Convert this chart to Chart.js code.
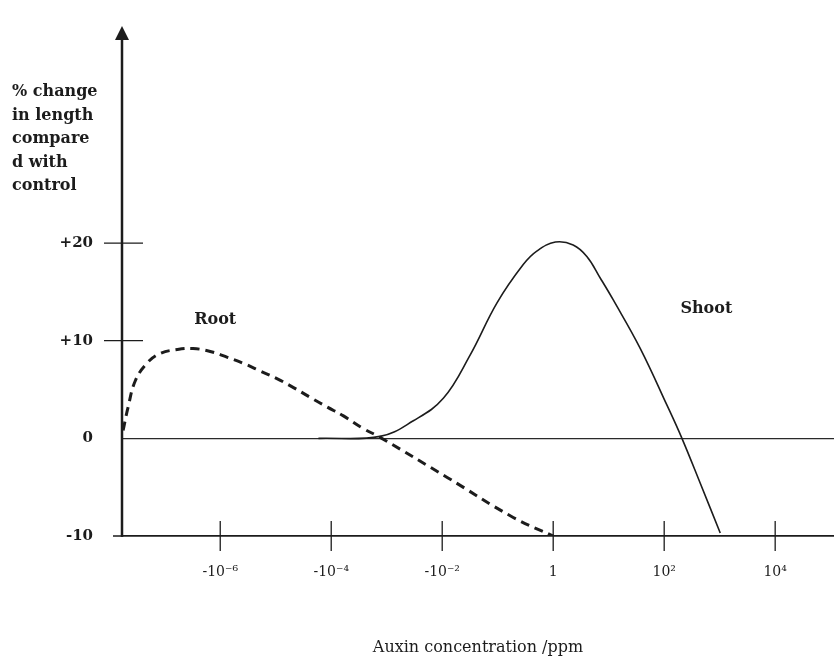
<!DOCTYPE html>
<html>
<head>
<meta charset="utf-8">
<title>Auxin concentration and growth</title>
<script src="https://cdn.jsdelivr.net/npm/chart.js@4.4.1/dist/chart.umd.min.js"></script>
<style>
  html, body { margin: 0; padding: 0; background: #fff; }
  #chart { display: block; }
</style>
</head>
<body>
<canvas id="chart" width="834" height="667"></canvas>
<script>
// x position = exponent on the concentration axis
const xTicks = [-6, -4, -2, 0, 2, 4];
const xTickLabels = ['-10⁻⁶', '-10⁻⁴', '-10⁻²', '1', '10²', '10⁴'];
const yTicks = [-10, 0, 10, 20];
const yTitleLines = ['% change', 'in length', 'compare', 'd with', 'control'];

// Root (dashed)
const rootX = [-7.75, -7.66, -7.53, -7.32, -7.08, -6.77, -6.49, -6.18, -5.87, -5.59, -5.28, -4.97, -4.68, -4.38, -4.07, -3.78, -3.42, -3.12, -1.91, -0.72, 0];
const rootY = [0.8, 3.2, 5.9, 7.7, 8.7, 9.1, 9.2, 8.9, 8.3, 7.7, 6.9, 6.1, 5.2, 4.2, 3.2, 2.3, 1.0, 0.1, -4.0, -8.1, -10];

// Shoot (solid)
const shootX = [-4.23, -3.12, -2.52, -1.98, -1.50, -1.01, -0.54, -0.29, 0.04, 0.36, 0.61, 0.85, 1.08, 1.57, 2.05, 2.32, 2.65, 3.01];
const shootY = [0, 0.2, 1.8, 4.1, 8.5, 13.9, 17.8, 19.2, 20.1, 19.8, 18.6, 16.4, 14.2, 9.2, 3.4, 0, -4.6, -9.7];

const curveNotes = [
    { text: 'Root', x: -6.09, y: 12.1 },
    { text: 'Shoot', x: 2.76, y: 13.3 }
];

const ink = '#1c1c1c';
const serif = '"DejaVu Serif", "Liberation Serif", serif';

function toPoints(xs, ys) {
    return xs.map((x, i) => ({ x: x, y: ys[i] }));
}

// axis arrow, crossing tick marks, side title and curve names
const axisDecor = {
    id: 'axisDecor',
    afterDatasetsDraw(chart) {
        const { ctx, chartArea, scales: { x, y } } = chart;
        const ax = chartArea.left;
        ctx.save();
        ctx.strokeStyle = ink;
        ctx.fillStyle = ink;

        // vertical axis with arrow head
        ctx.lineWidth = 2.5;
        ctx.beginPath();
        ctx.moveTo(ax, chartArea.bottom + 1);
        ctx.lineTo(ax, chartArea.top - 2);
        ctx.stroke();
        ctx.beginPath();
        ctx.moveTo(ax, chartArea.top - 12);
        ctx.lineTo(ax - 7, chartArea.top + 2);
        ctx.lineTo(ax + 7, chartArea.top + 2);
        ctx.closePath();
        ctx.fill();

        // y tick marks
        ctx.lineWidth = 1.3;
        ctx.beginPath();
        yTicks.forEach(v => {
            if (v === 0) return;
            const py = y.getPixelForValue(v);
            ctx.moveTo(ax - (v > 0 ? 18 : 9), py);
            ctx.lineTo(ax + (v > 0 ? 21 : 0), py);
        });
        // x tick marks
        xTicks.forEach(v => {
            const px = x.getPixelForValue(v);
            ctx.moveTo(px, chartArea.bottom - 15);
            ctx.lineTo(px, chartArea.bottom + 15);
        });
        ctx.stroke();

        // y axis title
        ctx.font = 'bold 16px ' + serif;
        ctx.textAlign = 'left';
        ctx.textBaseline = 'middle';
        yTitleLines.forEach((t, i) => ctx.fillText(t, 12, 92 + i * 23.5));

        // curve names
        ctx.textAlign = 'center';
        curveNotes.forEach(n => {
            ctx.fillText(n.text, x.getPixelForValue(n.x), y.getPixelForValue(n.y));
        });
        ctx.restore();
    }
};

new Chart(document.getElementById('chart'), {
    type: 'scatter',
    data: {
        datasets: [
            {
                label: 'Root',
                data: toPoints(rootX, rootY),
                showLine: true,
                borderColor: ink,
                borderWidth: 3,
                borderDash: [9, 6],
                pointRadius: 0,
                tension: 0.4
            },
            {
                label: 'Shoot',
                data: toPoints(shootX, shootY),
                showLine: true,
                borderColor: ink,
                borderWidth: 1.6,
                pointRadius: 0,
                tension: 0.4
            }
        ]
    },
    options: {
        responsive: false,
        animation: false,
        devicePixelRatio: 1,
        layout: { padding: { top: 20, left: 0, right: 0, bottom: 0 } },
        plugins: {
            legend: { display: false },
            tooltip: { enabled: false }
        },
        scales: {
            x: {
                type: 'linear',
                min: -7.77,
                max: 5.06,
                afterBuildTicks: scale => { scale.ticks = xTicks.map(v => ({ value: v })); },
                afterFit: scale => { scale.height = 131; },
                grid: { display: false, drawTicks: false },
                border: { display: true, color: ink, width: 1.8 },
                ticks: {
                    padding: 28,
                    color: ink,
                    maxRotation: 0,
                    autoSkip: false,
                    font: { family: serif, size: 14 },
                    callback: value => xTickLabels[xTicks.indexOf(value)]
                },
                title: {
                    display: true,
                    text: 'Auxin concentration /ppm',
                    color: ink,
                    font: { family: serif, size: 16 },
                    padding: { top: 0, bottom: 10 }
                }
            },
            y: {
                type: 'linear',
                min: -10,
                max: 41,
                afterBuildTicks: scale => { scale.ticks = yTicks.map(v => ({ value: v })); },
                afterFit: scale => { scale.width = 122; },
                grid: {
                    drawTicks: false,
                    color: c => (c.tick && c.tick.value === 0 ? '#2a2a2a' : 'rgba(0,0,0,0)'),
                    lineWidth: 1.3
                },
                border: { display: false },
                ticks: {
                    padding: 29,
                    color: ink,
                    font: { family: serif, size: 15, weight: 'bold' },
                    callback: value => (value > 0 ? '+' + value : String(value))
                }
            }
        }
    },
    plugins: [axisDecor]
});
</script>
</body>
</html>
